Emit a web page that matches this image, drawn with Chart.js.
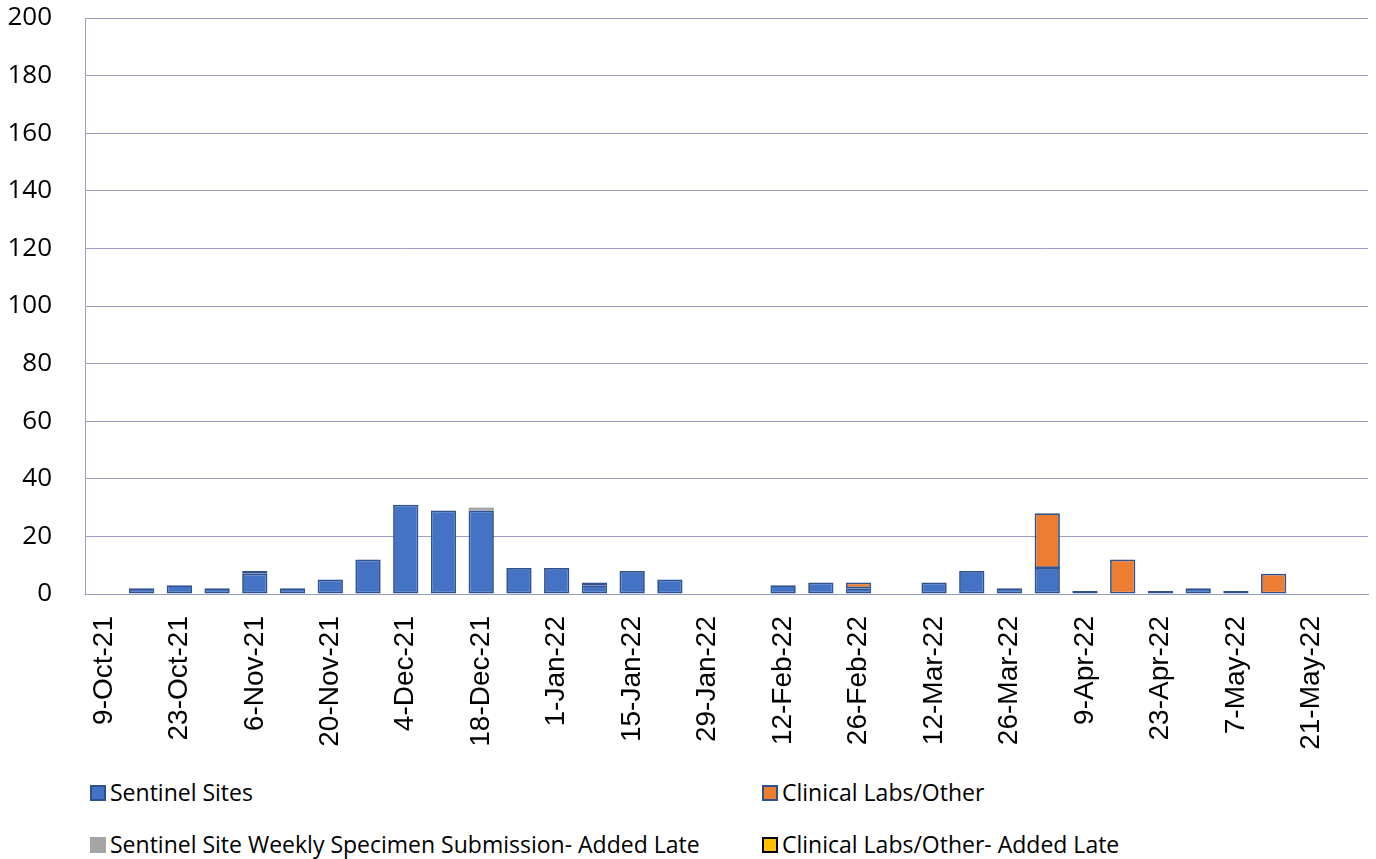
<!DOCTYPE html>
<html>
<head>
<meta charset="utf-8">
<script src="https://cdn.jsdelivr.net/npm/chart.js@4"></script>
<style>
  html, body { margin: 0; padding: 0; background: #fff; }
  #wrap { position: relative; width: 1376px; height: 859px; overflow: hidden; }
  #c { position: absolute; left: 0; top: 0; }
  .lg { position: absolute; font-family: "Open Sans", sans-serif; font-size: 23px; color: #000; white-space: nowrap; line-height: 28px; }
  .bx { position: absolute; width: 12px; height: 12px; }
</style>
</head>
<body>
<div id="wrap">
  <canvas id="c" width="1376" height="770"></canvas>
  <div id="legend"></div>
</div>
<script>
const categories = ["9-Oct-21","16-Oct-21","23-Oct-21","30-Oct-21","6-Nov-21","13-Nov-21","20-Nov-21","27-Nov-21","4-Dec-21","11-Dec-21","18-Dec-21","25-Dec-21","1-Jan-22","8-Jan-22","15-Jan-22","22-Jan-22","29-Jan-22","5-Feb-22","12-Feb-22","19-Feb-22","26-Feb-22","5-Mar-22","12-Mar-22","19-Mar-22","26-Mar-22","2-Apr-22","9-Apr-22","16-Apr-22","23-Apr-22","30-Apr-22","7-May-22","14-May-22","21-May-22","28-May-22"];
const sentinelSites      = [0,2,3,2,7,2,5,12,31,29,29,9,9,3,8,5,0,0,3,4,2,0,4,8,2,9,1,0,1,2,1,0,0,0];
const clinicalLabs       = [0,0,0,0,1,0,0,0,0,0,0,0,0,1,0,0,0,0,0,0,2,0,0,0,0,19,0,12,0,0,0,7,0,0];
const sentinelAddedLate  = [0,0,0,0,0,0,0,0,0,0,1,0,0,0,0,0,0,0,0,0,0,0,0,0,0,0,0,0,0,0,0,0,0,0];
const clinicalAddedLate  = [0,0,0,0,0,0,0,0,0,0,0,0,0,0,0,0,0,0,0,0,0,0,0,0,0,0,0,0,0,0,0,0,0,0];
const yTicks = [0,20,40,60,80,100,120,140,160,180,200];
const seriesNames = ["Sentinel Sites","Clinical Labs/Other","Sentinel Site Weekly Specimen Submission- Added Late","Clinical Labs/Other- Added Late"];

const BLUE = "#4472C4", ORANGE = "#ED7D31", GRAY = "#A5A5A5", GOLD = "#FFC000", EDGE = "#2F528F";
const GRID = "#9A9DC6";

const ds = (label, data, bg, border, bw) => ({
  label, data, backgroundColor: bg, borderColor: border, borderWidth: bw,
  borderSkipped: false, barPercentage: 0.67, categoryPercentage: 1.0, stack: "s"
});

const zeroPad = s => { s.paddingTop = 0; s.paddingBottom = 0; s.paddingLeft = 0; s.paddingRight = 0; };

new Chart(document.getElementById("c"), {
  type: "bar",
  data: {
    labels: categories,
    datasets: [
      ds(seriesNames[0], sentinelSites, BLUE, EDGE, 1.75),
      ds(seriesNames[1], clinicalLabs, ORANGE, EDGE, 1.75),
      ds(seriesNames[2], sentinelAddedLate, GRAY, GRAY, 0),
      ds(seriesNames[3], clinicalAddedLate, GOLD, "#000", 1.5)
    ]
  },
  options: {
    responsive: false,
    animation: false,
    layout: { padding: { top: 18, right: 8, left: 0, bottom: 0 } },
    plugins: { legend: { display: false }, tooltip: { enabled: false } },
    scales: {
      x: {
        stacked: true,
        grid: { display: false, drawTicks: false },
        border: { display: true, color: GRID, width: 1 },
        ticks: {
          autoSkip: false, minRotation: 90, maxRotation: 90, padding: 22,
          color: "#000", font: { family: "Liberation Sans", size: 28 },
          callback: function (v, i) { return i % 2 === 0 ? this.getLabelForValue(v) : ""; }
        },
        afterFit: s => { s.height = 770 - 594; zeroPad(s); }
      },
      y: {
        stacked: true, min: 0, max: 200,
        afterBuildTicks: s => { s.ticks = yTicks.map(v => ({ value: v })); },
        grid: { color: GRID, lineWidth: 1, drawTicks: false },
        border: { display: true, color: GRID, width: 1 },
        ticks: { padding: 33, color: "#000", font: { family: "Open Sans", size: 26 } },
        afterFit: s => { s.width = 85; zeroPad(s); }
      }
    }
  }
});

// legend (HTML, two columns)
const legendItems = [
  { name: seriesNames[0], fill: BLUE, edge: EDGE, x: 90, y: 793 },
  { name: seriesNames[1], fill: ORANGE, edge: EDGE, x: 762, y: 793 },
  { name: seriesNames[2], fill: GRAY, edge: null, x: 90, y: 845 },
  { name: seriesNames[3], fill: GOLD, edge: "#000", x: 762, y: 845 }
];
const lg = document.getElementById("legend");
legendItems.forEach(it => {
  const b = document.createElement("div");
  b.className = "bx";
  b.style.left = it.x + "px";
  b.style.top = (it.y - 8) + "px";
  b.style.background = it.fill;
  if (it.edge) { b.style.border = "2px solid " + it.edge; } else { b.style.width = "16px"; b.style.height = "16px"; }
  lg.appendChild(b);
  const t = document.createElement("div");
  t.className = "lg";
  t.textContent = it.name;
  t.style.left = (it.x + 20) + "px";
  t.style.top = (it.y - 15) + "px";
  lg.appendChild(t);
});
</script>
</body>
</html>
